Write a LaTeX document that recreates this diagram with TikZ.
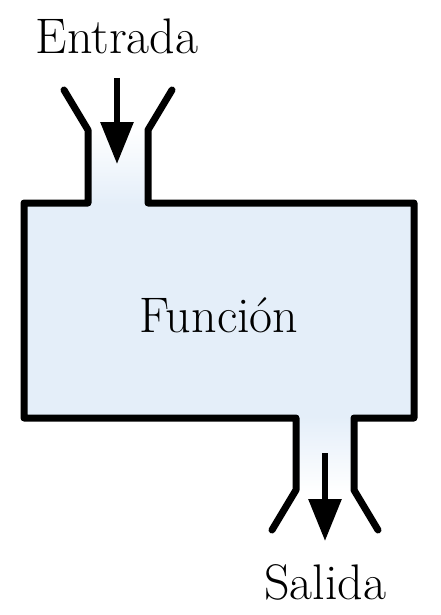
\documentclass[tikz,border=0pt]{standalone}
\usetikzlibrary{arrows.meta}
\definecolor{boxblue}{RGB}{228,238,249}

\begin{document}
\begin{tikzpicture}[x=1pt, y=-1pt,
  wall/.style={line width=7pt, line join=round, line cap=round},
  flow/.style={line width=6pt, -{Triangle[width=32pt,length=42pt]}},
  tag/.style={font=\fontsize{50}{60}\selectfont, anchor=base, inner sep=0pt}]
  \useasboundingbox (0,0) rectangle (440,615);

  % fills
  \fill[boxblue] (24,203) rectangle (414,418);
  \shade[top color=white, bottom color=boxblue] (88,128) rectangle (148,205);
  \shade[top color=boxblue, bottom color=white] (296,416) rectangle (354,492);

  % walls
  \draw[wall] (64,90) -- (88,130) -- (88,203) -- (24,203) -- (24,418)
    -- (296,418) -- (296,490) -- (272,530);
  \draw[wall] (172,90) -- (148,130) -- (148,203) -- (414,203) -- (414,418)
    -- (354,418) -- (354,490) -- (378,530);

  % arrows
  \coordinate (in-top) at (117,78);
  \coordinate (in-tip) at (117,164);
  \coordinate (out-top) at (325,453);
  \coordinate (out-tip) at (325,541);
  \draw[flow] (in-top) -- (in-tip);
  \draw[flow] (out-top) -- (out-tip);

  % labels
  \node[tag] (entrada) at (117,54) {Entrada};
  \node[tag] (funcion) at (219,332) {Función};
  \node[tag] (salida) at (325,599) {Salida};
\end{tikzpicture}
\end{document}
